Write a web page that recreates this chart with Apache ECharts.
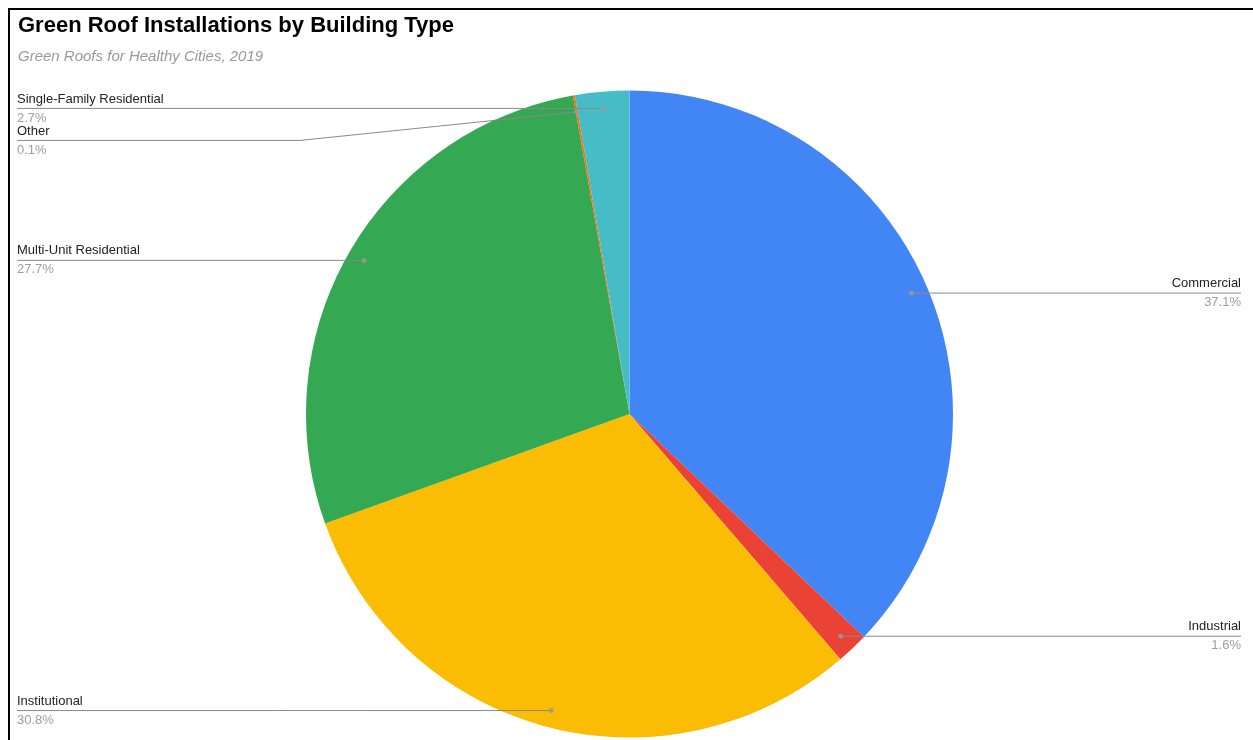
<!DOCTYPE html>
<html>
<head>
<meta charset="utf-8">
<title>Green Roof Installations by Building Type</title>
<script src="https://cdn.jsdelivr.net/npm/echarts@6/dist/echarts.min.js"></script>
<style>
  html, body { margin: 0; padding: 0; background: #fff; overflow: hidden; }
  #chart { position: absolute; left: 5px; top: 0; width: 1248px; height: 740px; }
  #frame { position: absolute; left: 8px; top: 8px; right: 0; bottom: 0;
           border-top: 2px solid #000; border-left: 2px solid #000; pointer-events: none; }
</style>
</head>
<body>
<div id="chart"></div>
<div id="frame"></div>
<script>
// Building types and their share of green roof installations (%)
const categories = ['Commercial', 'Industrial', 'Institutional', 'Multi-Unit Residential', 'Other', 'Single-Family Residential'];
const shares = [37.1, 1.6, 30.8, 27.7, 0.1, 2.7];
const sliceColors = ['#4285F4', '#EA4335', '#FBBC04', '#34A853', '#FF6D01', '#46BDC6'];

const titleText = 'Green Roof Installations by Building Type';
const subtitleText = 'Green Roofs for Healthy Cities, 2019';

// Pie geometry (pixels inside the chart container)
const CX = 624.5, CY = 414, R = 323.5;
const LEADER_R = 0.948;      // leader lines start at this fraction of the radius
const FONT = 'Arial, "Liberation Sans", sans-serif';

const chart = echarts.init(document.getElementById('chart'), null, { renderer: 'canvas' });

const pieData = categories.map((name, i) => ({ name, value: shares[i], itemStyle: { color: sliceColors[i] } }));

// Angular midpoint of each slice (in % of the full turn) for the leader dots
const total = shares.reduce((a, b) => a + b, 0);
let acc = 0;
const dotData = shares.map(v => {
  const mid = (acc + v / 2) / total * 100;
  acc += v;
  return [LEADER_R, mid];
});

chart.setOption({
  backgroundColor: '#fff',
  animation: false,
  title: {
    text: titleText,
    subtext: subtitleText,
    left: 13,
    top: 15,
    padding: 0,
    itemGap: 12,
    textStyle: { fontFamily: FONT, fontSize: 22, fontWeight: 'bold', color: '#000' },
    subtextStyle: { fontFamily: FONT, fontSize: 15, fontStyle: 'italic', color: '#999' }
  },
  polar: { center: [CX, CY], radius: R },
  angleAxis: {
    type: 'value', min: 0, max: 100, startAngle: 90, clockwise: true, show: false
  },
  radiusAxis: { type: 'value', min: 0, max: 1, show: false },
  series: [
    {
      // coloured slices
      type: 'pie',
      z: 2,
      center: [CX, CY],
      radius: R,
      startAngle: 90,
      clockwise: true,
      silent: true,
      label: { show: false },
      labelLine: { show: false },
      itemStyle: { borderWidth: 0 },
      data: pieData
    },
    {
      // transparent ring that carries the edge-aligned labels
      type: 'pie',
      z: 3,
      center: [CX, CY],
      radius: R * LEADER_R,
      startAngle: 90,
      clockwise: true,
      silent: true,
      itemStyle: { color: 'rgba(0,0,0,0)' },
      label: {
        show: true,
        position: 'outside',
        alignTo: 'edge',
        edgeDistance: 12,
        minMargin: 0,
        fontFamily: FONT,
        formatter: p => '{n|' + p.name + '}\n{p|' + p.value.toFixed(1) + '%}',
        rich: {
          n: { fontFamily: FONT, fontSize: 13, color: '#222', lineHeight: 19 },
          p: { fontFamily: FONT, fontSize: 13, color: '#9e9e9e', lineHeight: 19 }
        }
      },
      labelLine: {
        show: true,
        length: 0,
        length2: 10,
        lineStyle: { color: '#8a8a8a', width: 1 }
      },
      labelLayout: params => {
        const pts = params.labelLinePoints;
        if (!pts) return {};
        const isLeft = params.labelRect.x < chart.getWidth() / 2;
        // run the leader under the whole label, out to its outer edge
        pts[2][0] = isLeft ? params.labelRect.x : params.labelRect.x + params.labelRect.width;
        // a label that was pushed away bends just outside the pie rim
        if (Math.abs(pts[1][1] - pts[0][1]) > 0.5) {
          pts[1][0] = isLeft ? CX - R - 6 : CX + R + 6;
        }
        return { labelLinePoints: pts };
      },
      data: pieData.map(d => ({ name: d.name, value: d.value }))
    },
    {
      // dots where the leader lines start
      type: 'scatter',
      z: 4,
      coordinateSystem: 'polar',
      symbol: 'circle',
      symbolSize: 5,
      silent: true,
      itemStyle: { color: '#9a9a9a' },
      data: dotData
    }
  ]
});
</script>
</body>
</html>
